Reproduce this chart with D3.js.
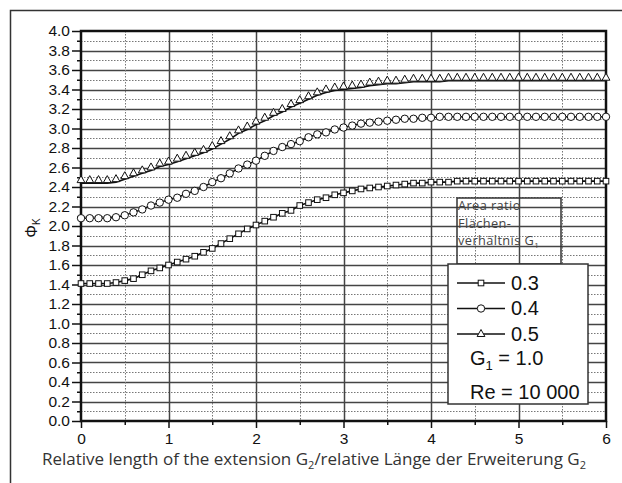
<!DOCTYPE html>
<html>
<head>
<meta charset="utf-8">
<script src="https://cdn.jsdelivr.net/npm/d3@7"></script>
<style>
  html, body { margin: 0; padding: 0; background: #fff; }
  svg { display: block; }
</style>
</head>
<body>
<svg id="chart" width="622" height="483"></svg>
<script>
// Relative extension length G2 (0 … 6 in steps of 0.1)
const lengths = d3.range(0, 61).map(i => +(i / 10).toFixed(1));

// Loss coefficient Φ_K for area ratio G1 = 0.3
const phi03 = [
  1.41, 1.41, 1.41, 1.41, 1.42, 1.44, 1.46, 1.50, 1.54, 1.57,
  1.60, 1.63, 1.66, 1.69, 1.73, 1.77, 1.82, 1.87, 1.92, 1.97,
  2.01, 2.05, 2.09, 2.13, 2.16, 2.21, 2.24, 2.27, 2.29, 2.32,
  2.34, 2.36, 2.38, 2.39, 2.40, 2.41, 2.42, 2.43, 2.44, 2.44,
  2.45, 2.45, 2.45, 2.46, 2.46, 2.46, 2.46, 2.46, 2.46, 2.46,
  2.46, 2.46, 2.46, 2.46, 2.46, 2.46, 2.46, 2.46, 2.46, 2.46,
  2.46
];
// Area ratio G1 = 0.4
const phi04 = [
  2.08, 2.08, 2.08, 2.08, 2.09, 2.11, 2.14, 2.17, 2.21, 2.24,
  2.27, 2.29, 2.33, 2.36, 2.40, 2.45, 2.49, 2.54, 2.59, 2.63,
  2.67, 2.72, 2.77, 2.81, 2.84, 2.87, 2.91, 2.94, 2.96, 2.99,
  3.01, 3.03, 3.05, 3.06, 3.07, 3.08, 3.09, 3.10, 3.10, 3.11,
  3.11, 3.12, 3.12, 3.12, 3.12, 3.12, 3.12, 3.12, 3.12, 3.12,
  3.12, 3.12, 3.12, 3.12, 3.12, 3.12, 3.12, 3.12, 3.12, 3.12,
  3.12
];
// Area ratio G1 = 0.5
const phi05 = [
  2.44, 2.44, 2.44, 2.44, 2.45, 2.48, 2.51, 2.54, 2.57, 2.61,
  2.63, 2.66, 2.69, 2.72, 2.75, 2.79, 2.84, 2.89, 2.95, 2.99,
  3.04, 3.08, 3.13, 3.17, 3.22, 3.26, 3.30, 3.34, 3.37, 3.39,
  3.40, 3.41, 3.42, 3.44, 3.45, 3.46, 3.46, 3.47, 3.48, 3.48,
  3.48, 3.48, 3.49, 3.49, 3.49, 3.49, 3.49, 3.49, 3.49, 3.49,
  3.49, 3.49, 3.49, 3.49, 3.49, 3.49, 3.49, 3.49, 3.49, 3.49,
  3.49
];

const seriesNames = ["0.3", "0.4", "0.5"];
const seriesMarkers = ["square", "circle", "triangle"];
const seriesValues = [phi03, phi04, phi05];

const xTicks = [0, 1, 2, 3, 4, 5, 6];
const yTicks = d3.range(0, 21).map(i => +(i * 0.2).toFixed(1));

const svg = d3.select("#chart");
const plotLeft = 81, plotRight = 606, plotTop = 31, plotBottom = 421;

const x = d3.scaleLinear().domain([0, 6]).range([plotLeft, plotRight]);
const y = d3.scaleLinear().domain([0, 4]).range([plotBottom, plotTop]);

// outer frame (only left and top edges fall inside the page)
svg.append("path")
  .attr("d", `M10.5,483 V10.5 H622`)
  .attr("fill", "none").attr("stroke", "#333").attr("stroke-width", 1.5);

// grid
const grid = svg.append("g");
const minorY = d3.range(0, 20).map(i => +(i * 0.2 + 0.1).toFixed(1));
const minorX = [0.5, 1.5, 2.5, 3.5, 4.5, 5.5];
grid.selectAll(".hmaj").data(yTicks.slice(1, -1)).join("line")
  .attr("x1", plotLeft).attr("x2", plotRight)
  .attr("y1", d => Math.round(y(d)) + 0.5).attr("y2", d => Math.round(y(d)) + 0.5)
  .attr("stroke", "#444").attr("stroke-width", 1.5);
grid.selectAll(".hmin").data(minorY).join("line")
  .attr("x1", plotLeft).attr("x2", plotRight)
  .attr("y1", d => Math.round(y(d)) + 0.5).attr("y2", d => Math.round(y(d)) + 0.5)
  .attr("stroke", "#777").attr("stroke-width", 1).attr("stroke-dasharray", "1.5,1.5");
grid.selectAll(".vmaj").data(xTicks.slice(1, -1)).join("line")
  .attr("x1", d => Math.round(x(d)) + 0.5).attr("x2", d => Math.round(x(d)) + 0.5)
  .attr("y1", plotTop).attr("y2", plotBottom)
  .attr("stroke", "#444").attr("stroke-width", 1.5);
grid.selectAll(".vmin").data(minorX).join("line")
  .attr("x1", d => Math.round(x(d)) + 0.5).attr("x2", d => Math.round(x(d)) + 0.5)
  .attr("y1", plotTop).attr("y2", plotBottom)
  .attr("stroke", "#777").attr("stroke-width", 1).attr("stroke-dasharray", "1.5,1.5");

// axes
const yAxis = svg.append("g").attr("transform", `translate(${plotLeft},0)`)
  .call(d3.axisLeft(y).tickValues(yTicks).tickFormat(d3.format(".1f")).tickSize(9).tickPadding(2));
const yMinor = svg.append("g").attr("transform", `translate(${plotLeft},0)`)
  .call(d3.axisLeft(y).tickValues(minorY).tickFormat("").tickSize(4));
const xAxis = svg.append("g").attr("transform", `translate(0,${plotBottom})`)
  .call(d3.axisBottom(x).tickValues(xTicks).tickFormat(d3.format("d")).tickSize(7).tickPadding(5));
const xMinor = svg.append("g").attr("transform", `translate(0,${plotBottom})`)
  .call(d3.axisBottom(x).tickValues(minorX).tickFormat("").tickSize(4));
[yAxis, yMinor, xAxis, xMinor].forEach(g => {
  g.select(".domain").remove();
  g.selectAll(".tick line").attr("stroke", "#111").attr("stroke-width", 1.5);
  g.selectAll("text").attr("font-family", "Liberation Sans, Arial, sans-serif")
    .attr("font-size", 15.5).attr("fill", "#111");
});

// plot frame
svg.append("rect")
  .attr("x", plotLeft).attr("y", plotTop)
  .attr("width", plotRight - plotLeft).attr("height", plotBottom - plotTop)
  .attr("fill", "none").attr("stroke", "#111").attr("stroke-width", 2.5);

// curves
const line = d3.line().x((d, i) => x(lengths[i])).y(d => y(d));
function drawMarker(g, kind) {
  if (kind === "square") {
    g.append("rect").attr("x", -2.8).attr("y", -2.8).attr("width", 5.6).attr("height", 5.6)
      .attr("fill", "#fff").attr("stroke", "#111").attr("stroke-width", 1);
  } else if (kind === "circle") {
    g.append("circle").attr("r", 3.7)
      .attr("fill", "#fff").attr("stroke", "#111").attr("stroke-width", 1);
  } else {
    g.append("path").attr("d", "M0,-7.5 L3.9,-0.5 L-3.9,-0.5 Z")
      .attr("fill", "#fff").attr("stroke", "#111").attr("stroke-width", 1);
  }
}
seriesValues.forEach((vals, s) => {
  const g = svg.append("g");
  g.append("path").datum(vals).attr("d", line)
    .attr("fill", "none").attr("stroke", "#111").attr("stroke-width", 1.6);
  vals.forEach((v, i) => {
    const m = g.append("g").attr("transform", `translate(${x(lengths[i])},${y(v)})`);
    drawMarker(m, seriesMarkers[s]);
  });
});

// axis titles
svg.append("text")
  .attr("x", 314).attr("y", 465).attr("text-anchor", "middle")
  .attr("font-family", "Open Sans, sans-serif").attr("font-size", 17).attr("fill", "#333")
  .call(t => {
    t.append("tspan").text("Relative length of the extension G");
    t.append("tspan").attr("dy", 4).attr("font-size", 11).text("2");
    t.append("tspan").attr("dy", -4).text("/relative Länge der Erweiterung G");
    t.append("tspan").attr("dy", 4).attr("font-size", 11).text("2");
  });
svg.append("text")
  .attr("transform", "translate(37,228) rotate(-90)").attr("text-anchor", "middle")
  .attr("font-family", "Liberation Sans, Arial, sans-serif").attr("font-size", 16).attr("fill", "#111")
  .call(t => {
    t.append("tspan").text("Φ");
    t.append("tspan").attr("dy", 3).attr("font-size", 10).text("K");
  });

// legend title box
svg.append("rect").attr("x", 457).attr("y", 198).attr("width", 104).attr("height", 66)
  .attr("fill", "none").attr("stroke", "#333").attr("stroke-width", 1.5);
const titleLines = ["Area ratio", "Flächen-", "verhältnis G"];
titleLines.forEach((txt, i) => {
  const t = svg.append("text").attr("x", 458).attr("y", 210 + i * 17.5)
    .attr("font-family", "Open Sans, sans-serif").attr("font-size", 12.8)
    .attr("letter-spacing", 0.4).attr("fill", "#444").text(txt);
  if (i === titleLines.length - 1) {
    t.append("tspan").attr("dy", 2.5).attr("font-size", 8).text("1");
  }
});

// legend box with series keys
svg.append("rect").attr("x", 448).attr("y", 264).attr("width", 140).attr("height", 140)
  .attr("fill", "#fff").attr("stroke", "#333").attr("stroke-width", 1.5);
seriesNames.forEach((name, s) => {
  const ly = 283 + s * 25.5;
  svg.append("line").attr("x1", 457).attr("x2", 505).attr("y1", ly).attr("y2", ly)
    .attr("stroke", "#111").attr("stroke-width", 1.5);
  const m = svg.append("g").attr("transform", `translate(481,${ly + (seriesMarkers[s] === "triangle" ? 3 : 0)})`);
  drawMarker(m, seriesMarkers[s]);
  svg.append("text").attr("x", 511).attr("y", ly + 6.5)
    .attr("font-family", "Liberation Sans, Arial, sans-serif").attr("font-size", 20)
    .attr("fill", "#111").text(name);
});
const g1 = svg.append("text").attr("x", 470).attr("y", 365)
  .attr("font-family", "Liberation Sans, Arial, sans-serif").attr("font-size", 20).attr("fill", "#111");
g1.append("tspan").text("G");
g1.append("tspan").attr("dy", 5).attr("font-size", 13).text("1");
g1.append("tspan").attr("dy", -5).text(" = 1.0");
svg.append("text").attr("x", 470).attr("y", 399)
  .attr("font-family", "Liberation Sans, Arial, sans-serif").attr("font-size", 20)
  .attr("fill", "#111").text("Re = 10 000");
</script>
</body>
</html>
